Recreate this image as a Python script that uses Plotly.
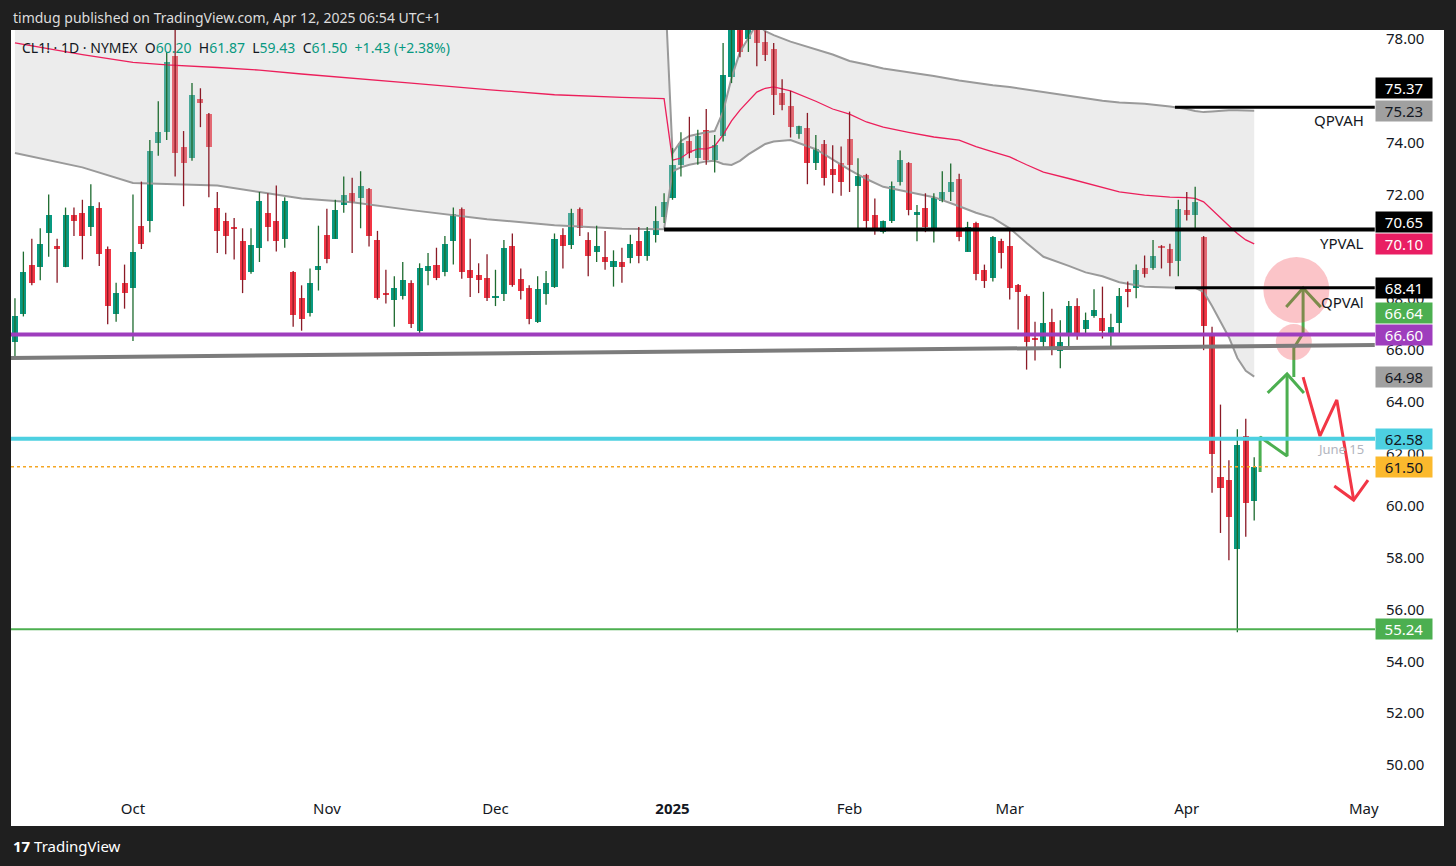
import plotly.graph_objects as go

# CL1! daily bars, 12 Sep 2024 .. 11 Apr 2025 (x = bar number)
opens = [66.3, 67.4, 69.3, 69.2, 70.5, 70.0, 69.2, 71.2, 71.3, 70.75,
         71.5, 69.9, 67.4, 68.6, 68.4, 70.8, 71.0, 74.0, 74.4, 77.35,
         73.85, 73.4, 75.7, 75.1, 71.5, 71.0, 70.72, 70.2, 69.0, 69.95,
         71.3, 71.0, 70.3, 69.0, 68.0, 67.45, 69.1, 70.45, 70.3, 71.6,
         72.05, 71.85, 72.2, 70.25, 68.17, 67.95, 68.1, 68.6, 66.75, 69.05,
         69.3, 69.0, 70.2, 71.45, 69.1, 68.9, 68.8, 68.0, 68.15, 70.0,
         68.75, 68.4, 67.1, 68.15, 68.45, 70.45, 70.05, 71.45, 70.25, 69.8,
         69.6, 69.2, 69.4, 69.55, 70.2, 69.65, 70.45, 71.15, 71.85, 73.15,
         74.05, 73.4, 74.5, 73.35, 74.25, 76.55, 78.9, 78.0, 79.9, 77.9,
         77.6, 75.9, 75.4, 74.34, 74.55, 73.2, 73.95, 73.0, 73.2, 74.15,
         72.35, 72.75, 71.2, 70.55, 71.0, 72.5, 73.2, 71.25, 71.5, 70.7,
         71.75, 72.1, 72.6, 69.8, 70.9, 69.1, 68.8, 70.2, 70.0, 68.5,
         68.1, 66.45, 66.3, 67.1, 65.95, 66.6, 67.7, 66.8, 67.3, 67.25,
         66.6, 67.05, 68.35, 68.4, 69.15, 69.15, 70.0, 69.9, 69.45, 71.4,
         71.2, 70.35, 66.65, 61.1, 61.0, 58.35, 62.7, 60.2]
highs = [68.0, 69.8, 70.3, 70.7, 72.0, 70.3, 71.5, 71.5, 71.8, 72.4,
         71.7, 70.0, 68.6, 69.3, 72.0, 72.5, 74.1, 75.6, 77.5, 78.46,
         74.45, 76.3, 76.1, 75.15, 72.1, 71.3, 71.1, 70.7, 70.7, 72.1,
         72.05, 72.35, 71.9, 69.05, 68.5, 69.15, 70.8, 71.45, 71.8, 72.7,
         72.65, 72.9, 72.25, 70.6, 69.1, 68.85, 69.4, 68.7, 69.35, 69.75,
         69.95, 70.4, 71.5, 71.5, 70.3, 69.35, 69.7, 69.1, 70.25, 70.5,
         69.15, 68.5, 68.85, 69.05, 70.5, 70.7, 71.45, 71.5, 70.55, 70.8,
         70.6, 69.85, 69.95, 70.45, 70.75, 70.75, 71.55, 72.05, 73.8, 74.4,
         75.0, 74.5, 75.3, 74.3, 77.85, 79.0, 79.2, 80.8, 80.2, 78.3,
         77.85, 76.45, 76.0, 74.65, 75.15, 74.3, 74.1, 73.9, 73.85, 75.2,
         73.4, 72.8, 71.85, 71.0, 72.5, 73.7, 73.25, 71.6, 72.05, 72.05,
         72.9, 73.2, 72.8, 70.95, 70.95, 69.3, 70.4, 70.3, 70.6, 68.55,
         68.15, 67.1, 68.25, 67.6, 67.15, 67.9, 68.0, 67.45, 68.35, 68.45,
         67.4, 68.4, 68.65, 69.3, 69.65, 70.25, 70.05, 70.1, 71.8, 72.1,
         72.3, 70.4, 66.9, 63.9, 61.75, 62.95, 63.35, 61.87]
lows = [65.7, 67.3, 68.5, 68.7, 69.6, 68.6, 69.2, 70.4, 69.5, 70.4,
        69.25, 67.0, 67.1, 67.6, 66.35, 69.9, 70.55, 73.5, 74.1, 72.7,
        71.55, 73.3, 74.6, 71.9, 69.75, 69.7, 69.5, 68.2, 68.95, 69.4,
        70.2, 69.8, 69.95, 66.9, 66.75, 67.3, 68.3, 69.35, 70.3, 71.3,
        69.75, 70.7, 70.0, 67.95, 67.8, 66.9, 67.95, 66.85, 66.55, 68.5,
        68.7, 68.85, 69.3, 68.75, 68.05, 68.2, 67.9, 67.7, 67.9, 68.45,
        67.95, 67.0, 67.05, 67.75, 68.4, 69.15, 69.9, 70.4, 68.85, 69.4,
        69.1, 68.45, 68.6, 69.35, 69.35, 69.45, 70.15, 70.9, 71.8, 72.7,
        73.4, 73.15, 73.15, 72.85, 74.05, 76.3, 77.3, 77.5, 76.95, 77.15,
        75.07, 75.25, 74.2, 74.15, 72.4, 72.95, 72.35, 72.05, 71.95, 72.1,
        70.7, 70.6, 70.45, 70.5, 70.9, 72.35, 71.2, 70.2, 70.55, 70.15,
        71.7, 71.75, 70.2, 69.8, 68.7, 68.4, 68.65, 69.15, 67.95, 66.8,
        65.25, 65.6, 66.1, 65.8, 65.3, 66.15, 66.4, 66.6, 67.25, 66.45,
        66.1, 66.65, 67.65, 68.0, 68.8, 69.1, 69.15, 68.85, 68.85, 71.0,
        70.65, 66.0, 60.5, 58.95, 57.9, 55.12, 58.8, 59.43]
closes = [67.3, 69.0, 68.6, 70.1, 71.2, 69.9, 71.2, 71.0, 70.4, 71.55,
          69.7, 67.7, 68.2, 68.2, 69.8, 70.1, 73.7, 74.4, 77.1, 73.6,
          73.2, 75.85, 75.55, 73.85, 70.6, 70.4, 70.68, 68.7, 70.05, 71.75,
          70.75, 70.2, 71.75, 67.35, 67.2, 68.6, 69.25, 69.5, 71.4, 72.0,
          71.7, 72.35, 70.4, 68.0, 68.13, 68.4, 68.7, 67.0, 69.15, 69.25,
          68.8, 70.1, 71.25, 69.0, 68.8, 68.7, 68.0, 68.1, 69.95, 68.5,
          68.3, 67.2, 68.35, 68.6, 70.3, 70.0, 71.3, 70.7, 69.65, 70.0,
          69.4, 69.45, 69.2, 70.1, 69.65, 70.6, 71.0, 71.7, 73.15, 74.0,
          73.6, 74.25, 73.35, 73.9, 76.6, 78.82, 77.5, 80.0, 77.85, 77.4,
          75.85, 75.45, 74.6, 74.65, 73.2, 73.75, 72.65, 72.75, 72.5, 73.15,
          72.7, 71.0, 70.6, 71.0, 72.35, 73.35, 71.4, 71.3, 70.75, 71.85,
          72.1, 72.5, 70.35, 70.75, 68.95, 68.65, 70.35, 69.75, 68.4, 68.25,
          66.3, 66.4, 67.05, 66.05, 66.3, 67.7, 66.6, 67.15, 67.55, 66.75,
          66.9, 68.1, 68.25, 69.1, 68.95, 69.65, 69.95, 69.35, 71.45, 71.2,
          71.7, 66.95, 62.0, 60.7, 59.55, 62.35, 60.1, 61.5]

month_idx = [14, 37, 57, 78, 99, 118, 139, 160]
month_labels = ["Oct", "Nov", "Dec", "<b>2025</b>", "Feb", "Mar", "Apr", "May"]

# anchored VWAP with bands (yearly reset on the first bar of 2025)
band_idx = [0, 8, 14, 18, 24, 29, 34, 40, 47, 56, 64, 72, 77,
            78, 79, 80, 81, 82, 83, 84, 85, 86, 87, 88, 89, 90, 92, 95, 97,
            99, 101, 103, 106, 109, 112, 114, 116, 118, 120, 122, 125, 127,
            129, 131, 134, 137, 139, 140, 141, 142, 143, 144, 145, 146, 147]
band_upper = [82.2, 81.8, 81.7, 81.6, 81.45, 81.5, 81.45, 81.3, 81.2, 81.1, 80.9, 80.8, 80.75,
              73.6, 74.07, 74.26, 74.34, 74.4, 74.45, 75.2, 76.5, 77.5, 78.04, 78.6, 78.3, 78.15,
              77.9, 77.6, 77.4, 77.15, 77.02, 76.86, 76.72, 76.57, 76.4, 76.3, 76.22, 76.15,
              76.05, 75.95, 75.8, 75.7, 75.62, 75.55, 75.5, 75.4, 75.3, 75.22, 75.18, 75.2,
              75.23, 75.25, 75.25, 75.24, 75.23]
band_vwap = [77.85, 77.4, 77.1, 77.0, 76.9, 76.8, 76.65, 76.5, 76.3, 76.05, 75.85, 75.75, 75.7,
             73.33, 73.41, 73.64, 73.76, 73.76, 73.87, 74.3, 74.84, 75.26, 75.6, 75.95, 76.1,
             76.15, 76.0, 75.6, 75.3, 75.1, 74.8, 74.6, 74.4, 74.22, 74.1, 73.85, 73.65, 73.45,
             73.15, 72.87, 72.62, 72.45, 72.3, 72.1, 71.98, 71.9, 71.88, 71.85, 71.72, 71.4,
             71.1, 70.8, 70.5, 70.25, 70.1]
band_lower = [73.6, 73.05, 72.45, 72.4, 72.35, 72.1, 71.85, 71.7, 71.4, 71.05, 70.82, 70.68, 70.66,
              72.9, 73.05, 73.15, 73.22, 73.28, 73.3, 73.18, 73.14, 73.3, 73.55, 73.75, 73.95,
              74.05, 74.1, 73.75, 73.35, 72.95, 72.6, 72.3, 72.1, 71.9, 71.55, 71.3, 71.1, 70.7,
              70.13, 69.6, 69.25, 69.0, 68.85, 68.62, 68.45, 68.41, 68.4, 68.4, 68.25, 67.7,
              67.1, 66.5, 65.7, 65.2, 64.98]

# drawn levels
trend_x = [-0.5, 161.3]
trend_y = [65.70, 66.20]
purple_level = 66.60
cyan_level = 62.58
green_level = 55.24
last_price = 61.50
ypval = 70.65
ypval_from = 77
qpvah = 75.37
qpval = 68.41
qp_from = 137.6

# hand-drawn path and arrows
up1_x = [147.7, 147.7, 150.9, 150.9]
up1_y = [61.30, 62.65, 61.92, 65.08]
up1_head_x = [148.6, 150.9, 152.9]
up1_head_y = [64.35, 65.08, 64.35]
up2_x = [151.7, 151.7, 152.8, 152.8]
up2_y = [64.96, 66.08, 66.66, 68.40]
up2_head_x = [150.8, 152.8, 154.9]
up2_head_y = [67.66, 68.40, 67.66]
down_x = [152.8, 154.8, 156.8, 158.8]
down_y = [64.96, 62.69, 64.08, 60.22]
down_head_x = [156.5, 158.8, 160.5]
down_head_y = [60.76, 60.22, 60.99]
circle_x = [152.0, 151.7]
circle_y = [68.32, 66.31]

UP = "#089981"
DOWN = "#f23645"
UP_WICK = "#1d6b2f"
DOWN_WICK = "#8a1a26"
DARK = "#1f1f1f"
FONT = "Noto Sans"

# page geometry (pixels) -> paper coordinates
W, H = 1456, 866
ML, MR, MT, MB = 11, 81, 30, 76
PW, PH = W - ML - MR, H - MT - MB


def px(X):
    return (X - ML) / PW


def py(Y):
    return (H - MB - Y) / PH


n = len(closes)
bar_x = list(range(n))

fig = go.Figure()

# band fill + lines
fig.add_trace(go.Scatter(x=band_idx, y=band_upper, mode="lines",
                         line=dict(color="#9a9a9a", width=2), hoverinfo="skip"))
fig.add_trace(go.Scatter(x=band_idx, y=band_lower, mode="lines", fill="tonexty",
                         fillcolor="rgba(200,200,200,0.35)",
                         line=dict(color="#9a9a9a", width=2), hoverinfo="skip"))
fig.add_trace(go.Scatter(x=band_idx, y=band_vwap, mode="lines",
                         line=dict(color="#ec1f5b", width=1.3), hoverinfo="skip"))

# candles: wicks then bodies
wu_x, wu_y, wd_x, wd_y = [], [], [], []
for i in range(n):
    if closes[i] >= opens[i]:
        wu_x += [i, i, None]
        wu_y += [lows[i], highs[i], None]
    else:
        wd_x += [i, i, None]
        wd_y += [lows[i], highs[i], None]
fig.add_trace(go.Scatter(x=wu_x, y=wu_y, mode="lines", line=dict(color=UP_WICK, width=1.3),
                         hoverinfo="skip"))
fig.add_trace(go.Scatter(x=wd_x, y=wd_y, mode="lines", line=dict(color=DOWN_WICK, width=1.3),
                         hoverinfo="skip"))
fig.add_trace(go.Bar(
    x=bar_x,
    base=[min(o, c) for o, c in zip(opens, closes)],
    y=[max(abs(c - o), 0.07) for o, c in zip(opens, closes)],
    marker=dict(color=[UP if c >= o else DOWN for o, c in zip(opens, closes)], line_width=0),
    width=0.72, hoverinfo="skip"))

# arrows
for xs, ys, col in [(up1_x, up1_y, "#4caf50"), (up1_head_x, up1_head_y, "#4caf50"),
                    (up2_x, up2_y, "#4caf50"), (up2_head_x, up2_head_y, "#4caf50"),
                    (down_x, down_y, DOWN), (down_head_x, down_head_y, DOWN)]:
    fig.add_trace(go.Scatter(x=xs, y=ys, mode="lines", line=dict(color=col, width=3),
                             hoverinfo="skip"))
fig.add_trace(go.Scatter(x=circle_x, y=circle_y, mode="markers",
                         marker=dict(size=[66, 36], color="rgba(242,54,69,0.42)", line_width=0),
                         hoverinfo="skip"))

# horizontal levels / trendline
fig.add_shape(type="line", x0=trend_x[0], x1=trend_x[1], y0=trend_y[0], y1=trend_y[1],
              xref="x", yref="y", line=dict(color="#7c7c7c", width=4))
fig.add_shape(type="line", xref="paper", x0=0, x1=1, y0=purple_level, y1=purple_level,
              line=dict(color="#9e3dbd", width=4))
fig.add_shape(type="line", xref="paper", x0=0, x1=1, y0=cyan_level, y1=cyan_level,
              line=dict(color="#4dd0e1", width=4))
fig.add_shape(type="line", xref="paper", x0=0, x1=1, y0=green_level, y1=green_level,
              line=dict(color="#4caf50", width=2))
fig.add_shape(type="line", xref="paper", x0=0, x1=1, y0=last_price, y1=last_price,
              line=dict(color="#f5a623", width=1.5, dash="dot"))
fig.add_shape(type="line", x0=ypval_from, x1=trend_x[1], y0=ypval, y1=ypval,
              line=dict(color="#000000", width=4))
fig.add_shape(type="line", x0=qp_from, x1=trend_x[1], y0=qpvah, y1=qpvah,
              line=dict(color="#000000", width=3))
fig.add_shape(type="line", x0=qp_from, x1=trend_x[1], y0=qpval, y1=qpval,
              line=dict(color="#000000", width=3))

# white chart panel inside the dark frame
fig.add_shape(type="rect", xref="paper", yref="paper", x0=px(11), x1=px(1444),
              y0=py(826), y1=py(30), fillcolor="#ffffff", line_width=0, layer="below")

# price-scale labels
label_vals = [qpvah, band_upper[-1], ypval, band_vwap[-1], qpval, 66.64, purple_level,
              band_lower[-1], cyan_level, last_price, green_level]
label_bg = ["#000000", "#a0a0a0", "#000000", "#e91e63", "#000000", "#4caf50", "#9e3dbd",
            "#a0a0a0", "#4dd0e1", "#fbb92d", "#4caf50"]
label_fg = ["#ffffff", "#131722", "#ffffff", "#ffffff", "#ffffff", "#ffffff", "#ffffff",
            "#131722", "#131722", "#131722", "#ffffff"]
label_shift = [19, 0, 8, 0, 0, 21, 0, 0, 0, 0, 0]
for v, bg, fg, sh in zip(label_vals, label_bg, label_fg, label_shift):
    fig.add_annotation(x=1, xref="paper", xanchor="left", y=v, yref="y", yanchor="middle",
                       yshift=sh, text=f"{v:.2f}", showarrow=False, bgcolor=bg, width=50,
                       height=14, borderpad=3, font=dict(family=FONT, size=15, color=fg))

# drawing texts
for txt, yv in [("QPVAH", 74.88), ("YPVAL", 70.13), ("QPVAl", 67.86)]:
    fig.add_annotation(x=px(1366), xref="paper", xanchor="right", y=yv, yref="y",
                       yanchor="middle", text=txt, showarrow=False,
                       font=dict(family=FONT, size=15, color="#131722"))
fig.add_annotation(x=px(1366), xref="paper", xanchor="right", y=62.19, yref="y",
                   yanchor="middle", text="June 15", showarrow=False,
                   font=dict(family=FONT, size=13, color="#b2b5be"))

# header / legend / footer
fig.add_annotation(x=px(11), y=py(17), xref="paper", yref="paper", xanchor="left",
                   yanchor="middle",
                   text="timdug published on TradingView.com, Apr 12, 2025 06:54 UTC+1",
                   showarrow=False, font=dict(family=FONT, size=14, color="#dcdcdc"))
g = "<span style='color:#089981'>%s</span>"
legend = ("CL1! · 1D · NYMEX\u00a0\u00a0O" + g % "60.20" + "\u00a0\u00a0H" + g % "61.87"
          + "\u00a0\u00a0L" + g % "59.43" + "\u00a0\u00a0C" + g % "61.50"
          + "\u00a0\u00a0" + g % "+1.43 (+2.38%)")
fig.add_annotation(x=px(20), y=py(48), xref="paper", yref="paper", xanchor="left",
                   yanchor="middle", text=legend, showarrow=False,
                   font=dict(family=FONT, size=14, color="#131722"))
fig.add_annotation(x=px(11), y=py(846), xref="paper", yref="paper", xanchor="left",
                   yanchor="middle", text="<b>17</b> TradingView", showarrow=False,
                   font=dict(family=FONT, size=15, color="#ffffff"))

fig.update_layout(
    width=W, height=H, margin=dict(l=ML, r=MR, t=MT, b=MB),
    paper_bgcolor=DARK, plot_bgcolor="#ffffff", showlegend=False,
    bargap=0, hovermode=False,
    xaxis=dict(range=[-0.47, 161.33], tickmode="array", tickvals=month_idx,
               ticktext=month_labels, showgrid=False, zeroline=False, showline=False,
               ticks="", ticklabelstandoff=8, fixedrange=True,
               tickfont=dict(family=FONT, size=15, color="#131722")),
    yaxis=dict(range=[49.037, 78.347], side="right", dtick=2, tick0=0, tickformat=".2f",
               showgrid=False, zeroline=False, showline=False, ticks="",
               ticklabelstandoff=10, fixedrange=True,
               tickfont=dict(family=FONT, size=15, color="#131722")),
)

# the page body has a default 8px margin; remove it so the figure sits at the window corner
fig.write_html("out.html", config={"displayModeBar": False},
               post_script="document.body.style.margin='0px';")
